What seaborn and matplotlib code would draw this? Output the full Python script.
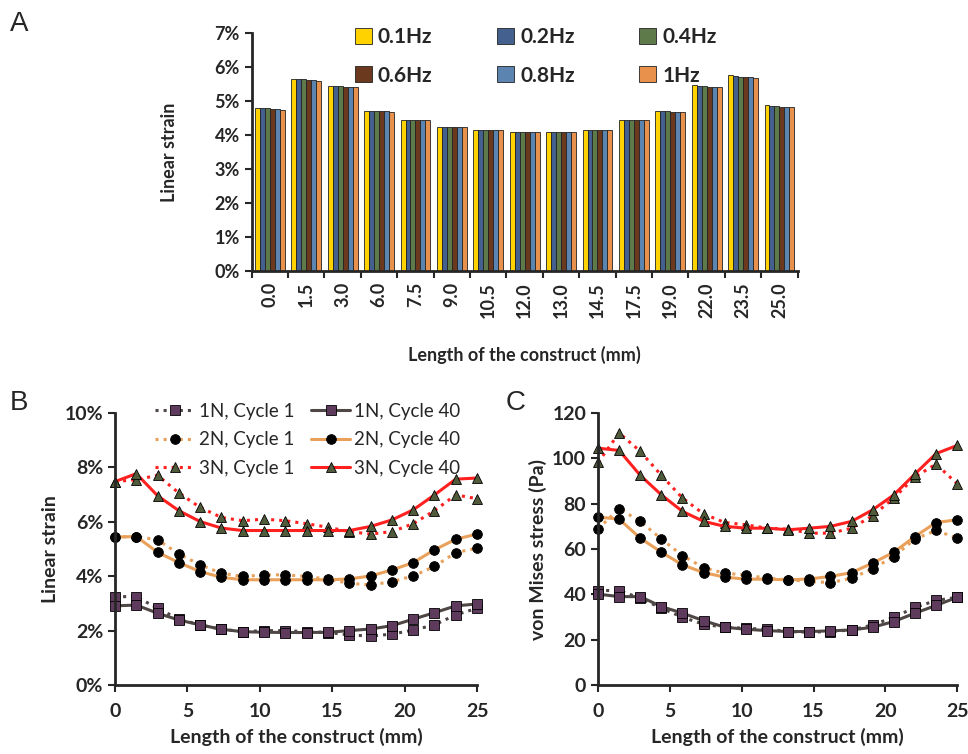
import numpy as np
import pandas as pd
import seaborn as sns
import matplotlib.pyplot as plt
from matplotlib.ticker import PercentFormatter, MultipleLocator, FixedLocator

sns.set_theme(style="ticks")
plt.rcParams['font.family'] = ['Lato', 'DejaVu Sans']

# ---------- data: panel A (linear strain %, per frequency) ----------
positions = ['0.0', '1.5', '3.0', '6.0', '7.5', '9.0', '10.5', '12.0', '13.0',
             '14.5', '17.5', '19.0', '22.0', '23.5', '25.0']
freqs = ['0.1Hz', '0.2Hz', '0.4Hz', '0.6Hz', '0.8Hz', '1Hz']
strain_01 = [4.80, 5.66, 5.45, 4.72, 4.45, 4.25, 4.15, 4.09, 4.09, 4.15, 4.43, 4.70, 5.46, 5.76, 4.87]
strain_02 = [4.79, 5.66, 5.45, 4.71, 4.44, 4.25, 4.15, 4.09, 4.09, 4.15, 4.43, 4.70, 5.45, 5.74, 4.86]
strain_04 = [4.78, 5.64, 5.43, 4.70, 4.43, 4.25, 4.15, 4.09, 4.09, 4.15, 4.43, 4.70, 5.43, 5.72, 4.84]
strain_06 = [4.77, 5.63, 5.42, 4.70, 4.43, 4.25, 4.15, 4.09, 4.09, 4.15, 4.43, 4.69, 5.42, 5.72, 4.83]
strain_08 = [4.77, 5.63, 5.42, 4.70, 4.43, 4.25, 4.15, 4.09, 4.09, 4.15, 4.43, 4.69, 5.42, 5.71, 4.83]
strain_1 = [4.75, 5.60, 5.40, 4.69, 4.43, 4.25, 4.15, 4.09, 4.09, 4.15, 4.43, 4.68, 5.40, 5.68, 4.82]
bar_colors = ['#FFD200', '#44608F', '#5E7A4B', '#6B3A1E', '#5B84B1', '#E8914D']

# ---------- data: panels B and C ----------
x_mm = [0, 1.47, 2.94, 4.41, 5.88, 7.35, 8.82, 10.29, 11.76, 13.24, 14.71,
        16.18, 17.65, 19.12, 20.59, 22.06, 23.53, 25.0]

# linear strain (%)
b_1n_c1 = [3.25, 3.25, 2.82, 2.42, 2.21, 2.05, 1.96, 2.00, 2.00, 1.96, 1.93, 1.84, 1.80, 1.87, 2.02, 2.21, 2.58, 2.82]
b_1n_c40 = [2.91, 2.94, 2.64, 2.39, 2.21, 2.05, 1.96, 1.94, 1.93, 1.93, 1.94, 2.00, 2.06, 2.18, 2.42, 2.66, 2.91, 2.98]
b_2n_c1 = [5.44, 5.46, 5.34, 4.82, 4.42, 4.11, 3.99, 4.05, 4.05, 3.99, 3.89, 3.74, 3.68, 3.80, 4.01, 4.36, 4.87, 5.03]
b_2n_c40 = [5.44, 5.46, 4.88, 4.50, 4.17, 3.96, 3.87, 3.87, 3.87, 3.87, 3.87, 3.90, 4.01, 4.23, 4.50, 4.97, 5.36, 5.55]
b_3n_c1 = [7.48, 7.55, 7.71, 7.06, 6.53, 6.16, 6.04, 6.10, 6.04, 5.93, 5.80, 5.64, 5.55, 5.64, 5.93, 6.41, 6.99, 6.85]
b_3n_c40 = [7.48, 7.77, 6.96, 6.41, 6.01, 5.77, 5.68, 5.68, 5.68, 5.68, 5.68, 5.68, 5.83, 6.07, 6.44, 6.99, 7.57, 7.61]

# von Mises stress (Pa)
c_1n_c1 = [41.7, 41.7, 38.3, 33.9, 29.9, 26.8, 25.5, 25.0, 24.6, 23.6, 23.3, 23.6, 24.3, 26.5, 29.9, 34.2, 37.3, 38.7]
c_1n_c40 = [40.1, 39.0, 39.0, 34.6, 31.7, 28.4, 25.5, 24.6, 24.0, 23.6, 23.6, 23.9, 24.3, 25.5, 28.0, 31.7, 35.1, 38.7]
c_2n_c1 = [68.9, 77.8, 72.2, 64.4, 57.1, 51.8, 49.3, 48.6, 47.1, 46.4, 45.7, 45.2, 47.1, 51.3, 56.7, 64.4, 68.2, 64.8]
c_2n_c40 = [74.1, 73.2, 64.8, 58.6, 53.0, 49.6, 47.6, 46.7, 46.7, 46.4, 46.8, 47.9, 49.6, 53.8, 58.6, 65.5, 71.7, 72.9]
c_3n_c1 = [98.2, 111.2, 103.1, 92.5, 82.5, 75.5, 71.7, 70.7, 69.2, 68.8, 67.0, 67.0, 69.2, 74.7, 82.5, 91.8, 97.5, 88.8]
c_3n_c40 = [104.5, 103.5, 92.5, 83.9, 76.6, 72.2, 70.0, 69.2, 69.2, 68.5, 69.2, 70.0, 72.2, 77.3, 83.9, 93.1, 102.1, 105.7]

# series styling: (label, line colour, marker, marker face, linestyle)
styles = [
    ('1N, Cycle 1', '#4F4646', 's', '#5E3B5C', ':'),
    ('2N, Cycle 1', '#E8A05A', 'o', 'black', ':'),
    ('3N, Cycle 1', '#FF2020', '^', '#4F5B3A', ':'),
    ('1N, Cycle 40', '#4F4646', 's', '#5E3B5C', '-'),
    ('2N, Cycle 40', '#E8A05A', 'o', 'black', '-'),
    ('3N, Cycle 40', '#FF2020', '^', '#4F5B3A', '-'),
]

fig = plt.figure(figsize=(9.68, 7.54), dpi=100)

# ---------- Panel A ----------
axA = fig.add_axes([0.260, 0.6406, 0.564, 0.3156])
strain_all = [strain_01, strain_02, strain_04, strain_06, strain_08, strain_1]
dfA = pd.DataFrame({
    'pos': positions * len(freqs),
    'freq': np.repeat(freqs, len(positions)),
    'strain': np.concatenate(strain_all),
})
sns.barplot(data=dfA, x='pos', y='strain', hue='freq', order=positions,
            hue_order=freqs, palette=bar_colors, saturation=1,
            edgecolor='#222222', linewidth=0.6, width=0.82, ax=axA)
axA.set_ylim(0, 7)
axA.set_xlim(-0.5, len(positions) - 0.5)
axA.yaxis.set_major_locator(MultipleLocator(1))
axA.yaxis.set_major_formatter(PercentFormatter(decimals=0))
axA.xaxis.set_minor_locator(FixedLocator(np.arange(-0.5, len(positions), 1)))
axA.tick_params(axis='x', which='major', length=0, pad=8)
axA.tick_params(axis='x', which='minor', length=5, width=1.5, direction='out')
axA.tick_params(axis='y', length=5, width=1.5, direction='out')
for lab in axA.get_xticklabels():
    lab.set_rotation(90)
    lab.set_fontweight('bold')
    lab.set_fontsize(13)
for lab in axA.get_yticklabels():
    lab.set_fontweight('bold')
    lab.set_fontsize(13)
axA.set_xlabel('Length of the construct (mm)', fontsize=13, fontweight='bold', labelpad=20)
axA.set_ylabel('Linear strain', fontsize=13, fontweight='bold', labelpad=26)
sns.despine(ax=axA)
for s in ['left', 'bottom']:
    axA.spines[s].set_linewidth(2)
handles, labels = axA.get_legend_handles_labels()
# rows: 0.1/0.2/0.4 then 0.6/0.8/1 (legend fills column-wise)
order = [0, 3, 1, 4, 2, 5]
axA.legend([handles[i] for i in order], [labels[i] for i in order], ncol=3,
           frameon=False, loc='upper left', bbox_to_anchor=(0.155, 1.105),
           handlelength=0.8, handleheight=0.8, handletextpad=0.3,
           columnspacing=3.1, labelspacing=0.9,
           prop={'weight': 'bold', 'size': 15})


def draw_lines(ax, series):
    for (label, color, marker, face, ls), vals in zip(styles, series):
        sns.lineplot(x=x_mm, y=vals, ax=ax, color=color, linestyle=ls,
                     linewidth=2.2, marker=marker, markersize=7,
                     markerfacecolor=face, markeredgecolor='black',
                     markeredgewidth=0.6, label=label, legend=False)
    ax.set_xlim(0, 25)
    ax.xaxis.set_major_locator(MultipleLocator(5))
    ax.tick_params(axis='both', length=5, width=1.5, direction='out', labelsize=14)
    ax.tick_params(axis='x', pad=8)
    for lab in ax.get_xticklabels() + ax.get_yticklabels():
        lab.set_fontweight('bold')
    ax.set_xlabel('Length of the construct (mm)', fontsize=14, fontweight='bold', labelpad=6)
    sns.despine(ax=ax)
    for s in ['left', 'bottom']:
        ax.spines[s].set_linewidth(2)
    for ln in ax.lines:
        ln.set_clip_on(False)


# ---------- Panel B ----------
axB = fig.add_axes([0.1188, 0.0915, 0.374, 0.3607])
draw_lines(axB, [b_1n_c1, b_2n_c1, b_3n_c1, b_1n_c40, b_2n_c40, b_3n_c40])
axB.set_ylim(0, 10)
axB.yaxis.set_major_locator(MultipleLocator(2))
axB.yaxis.set_major_formatter(PercentFormatter(decimals=0))
for lab in axB.get_yticklabels():
    lab.set_fontweight('bold')
axB.set_ylabel('Linear strain', fontsize=14, fontweight='bold', labelpad=4)
axB.legend(ncol=2, frameon=False, loc='upper left', bbox_to_anchor=(0.065, 1.1),
           handlelength=2.1, handletextpad=0.2, columnspacing=0.9,
           labelspacing=0.62, fontsize=13.5)

# ---------- Panel C ----------
axC = fig.add_axes([0.6178, 0.0915, 0.371, 0.3607])
draw_lines(axC, [c_1n_c1, c_2n_c1, c_3n_c1, c_1n_c40, c_2n_c40, c_3n_c40])
axC.set_ylim(0, 120)
axC.yaxis.set_major_locator(MultipleLocator(20))
for lab in axC.get_yticklabels():
    lab.set_fontweight('bold')
axC.set_ylabel('von Mises stress (Pa)', fontsize=14, fontweight='bold', labelpad=4)

# panel letters
for letter, x, y in [('A', 0.010, 0.985), ('B', 0.010, 0.483), ('C', 0.522, 0.483)]:
    fig.text(x, y, letter, fontsize=20, family='Liberation Sans', va='top')

fig.savefig('out.png', dpi=100, facecolor='white')
